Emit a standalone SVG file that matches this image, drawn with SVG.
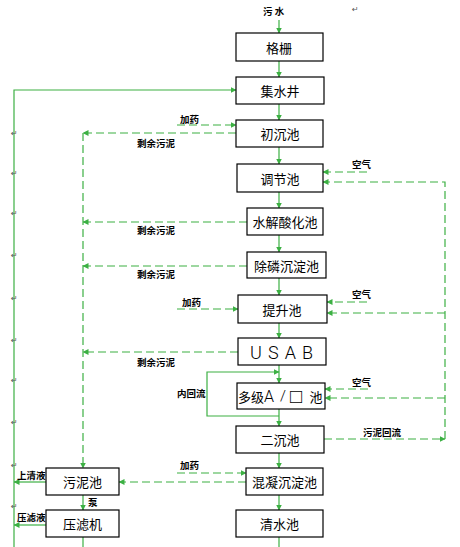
<svg xmlns="http://www.w3.org/2000/svg" width="460" height="547" viewBox="0 0 460 547">
<style>
.box{fill:#fff;stroke:#000;stroke-width:1.2}
.t{font-family:"Noto Sans CJK SC",sans-serif;font-size:13px;fill:#000;text-anchor:middle;dominant-baseline:central}
.s{font-family:"Noto Sans CJK SC",sans-serif;font-size:9.5px;fill:#000;font-weight:bold}
.g{stroke:#3cb043;stroke-width:1.2;fill:none}
.d{stroke:#3cb043;stroke-width:1.2;fill:none;stroke-dasharray:8 4}
.pm{font-family:"DejaVu Sans",sans-serif;font-size:8px;fill:#555}
.lt{font-family:Roboto,"Liberation Sans",sans-serif;font-weight:300;fill:#000;dominant-baseline:central}
</style>
<defs>
<marker id="a" markerWidth="6" markerHeight="6" refX="5.5" refY="3" orient="auto" markerUnits="userSpaceOnUse"><path d="M0,0 L6,3 L0,6 z" fill="#3cb043"/></marker>
</defs>

<g id="connectors">
<path class="g" d="M279,20 V33" marker-end="url(#a)"/>
<path class="g" d="M279,61 V77" marker-end="url(#a)"/>
<path class="g" d="M279,104 V120" marker-end="url(#a)"/>
<path class="g" d="M279,147 V164" marker-end="url(#a)"/>
<path class="g" d="M279,192 V208" marker-end="url(#a)"/>
<path class="g" d="M279,235 V252" marker-end="url(#a)"/>
<path class="g" d="M279,278 V295" marker-end="url(#a)"/>
<path class="g" d="M279,323 V338" marker-end="url(#a)"/>
<path class="g" d="M279,365 V383" marker-end="url(#a)"/>
<path class="g" d="M279,409 V426" marker-end="url(#a)"/>
<path class="g" d="M279,453 V468" marker-end="url(#a)"/>
<path class="g" d="M279,495 V510" marker-end="url(#a)"/>
<path class="g" d="M279,537 V547"/>
<path class="g" d="M14,547 V90 H236" marker-end="url(#a)"/>
<path class="g" d="M46,482 H14" marker-end="url(#a)"/>
<path class="g" d="M46,525 H14" marker-end="url(#a)"/>
<path class="d" d="M83,133 V468" marker-end="url(#a)"/>
<path class="d" d="M236,133 H83" marker-end="url(#a)"/>
<path class="d" d="M247,222 H83" marker-end="url(#a)"/>
<path class="d" d="M247,266 H83" marker-end="url(#a)"/>
<path class="d" d="M238,352 H83" marker-end="url(#a)"/>
<path class="d" d="M177,125 H236" marker-end="url(#a)"/>
<path class="d" d="M177,309 H238" marker-end="url(#a)"/>
<path class="d" d="M177,473 H246" marker-end="url(#a)"/>
<path class="d" d="M246,482 H119" marker-end="url(#a)"/>
<path class="g" d="M83,495 V510" marker-end="url(#a)"/>
<path class="g" d="M83,537 V547"/>
<path class="d" d="M324,439 H445" marker-end="url(#a)"/>
<path class="d" d="M445,439 V182 H323" marker-end="url(#a)"/>
<path class="d" d="M445,313 H327" marker-end="url(#a)"/>
<path class="d" d="M445,398 H325" marker-end="url(#a)"/>
<path class="d" d="M367,172 H323" marker-end="url(#a)"/>
<path class="d" d="M367,302 H327" marker-end="url(#a)"/>
<path class="d" d="M368,389 H325" marker-end="url(#a)"/>
<path class="g" d="M279,416 H207 V372 H279" marker-end="url(#a)"/>
</g>

<g id="n-geshan"><rect class="box" x="236" y="33" width="87" height="28"/><text class="t" x="279" y="47">格栅</text></g>
<g id="n-jishuijing"><rect class="box" x="236" y="77" width="88" height="27"/><text class="t" x="280" y="90.5">集水井</text></g>
<g id="n-chuchen"><rect class="box" x="236" y="120" width="87" height="27"/><text class="t" x="280" y="133.5">初沉池</text></g>
<g id="n-tiaojie"><rect class="box" x="237" y="164" width="86" height="28"/><text class="t" x="280" y="178">调节池</text></g>
<g id="n-shuijie"><rect class="box" x="247" y="208" width="76" height="27"/><text class="t" x="285" y="221.5">水解酸化池</text></g>
<g id="n-chulin"><rect class="box" x="247" y="252" width="79" height="26"/><text class="t" x="286.5" y="265">除磷沉淀池</text></g>
<g id="n-tisheng"><rect class="box" x="238" y="295" width="89" height="28"/><text class="t" x="282" y="309">提升池</text></g>
<g id="n-usab"><rect class="box" x="238" y="338" width="88" height="27"/><text class="lt" x="250" y="352" font-size="18" textLength="63" lengthAdjust="spacing">USAB</text></g>
<g id="n-ao"><rect class="box" x="237" y="383" width="88" height="26"/>
<text class="t" x="251" y="396" font-size="12">多级</text>
<text class="lt" x="264" y="396" font-size="16">A</text>
<text class="lt" x="280" y="396" font-size="15">/</text>
<text class="lt" x="290" y="396" font-size="20">□</text>
<text class="t" x="316" y="396">池</text></g>
<g id="n-erchen"><rect class="box" x="236" y="426" width="88" height="27"/><text class="t" x="280" y="439.5">二沉池</text></g>
<g id="n-hunning"><rect class="box" x="246" y="468" width="77" height="27"/><text class="t" x="284.5" y="481.5">混凝沉淀池</text></g>
<g id="n-qingshui"><rect class="box" x="236" y="510" width="87" height="27"/><text class="t" x="279.5" y="523.5">清水池</text></g>
<g id="n-wunichi"><rect class="box" x="46" y="468" width="73" height="27"/><text class="t" x="82.5" y="481.5">污泥池</text></g>
<g id="n-yalvji"><rect class="box" x="46" y="510" width="73" height="27"/><text class="t" x="82.5" y="523.5">压滤机</text></g>

<g id="labels">
<text class="s" x="263" y="15" font-size="10">污  水</text>
<text class="s" x="180" y="123">加药</text>
<text class="s" x="137" y="147">剩余污泥</text>
<text class="s" x="352" y="168">空气</text>
<text class="s" x="137" y="234">剩余污泥</text>
<text class="s" x="137" y="278">剩余污泥</text>
<text class="s" x="182" y="306">加药</text>
<text class="s" x="352" y="298">空气</text>
<text class="s" x="137" y="366">剩余污泥</text>
<text class="s" x="177" y="397">内回流</text>
<text class="s" x="352" y="386">空气</text>
<text class="s" x="363" y="436">污泥回流</text>
<text class="s" x="180" y="469">加药</text>
<text class="s" x="17" y="479">上清液</text>
<text class="s" x="88" y="506">泵</text>
<text class="s" x="17" y="521">压滤液</text>
</g>

<g id="marks">
<text class="pm" x="352" y="12">↵</text>
<text class="pm" x="11" y="136">↵</text>
<text class="pm" x="11" y="176">↵</text>
<text class="pm" x="11" y="216">↵</text>
<text class="pm" x="11" y="258">↵</text>
<text class="pm" x="11" y="301">↵</text>
<text class="pm" x="11" y="343">↵</text>
<text class="pm" x="11" y="383">↵</text>
<text class="pm" x="11" y="425">↵</text>
<text class="pm" x="11" y="468">↵</text>
<text class="pm" x="11" y="509">↵</text>
</g>
</svg>
